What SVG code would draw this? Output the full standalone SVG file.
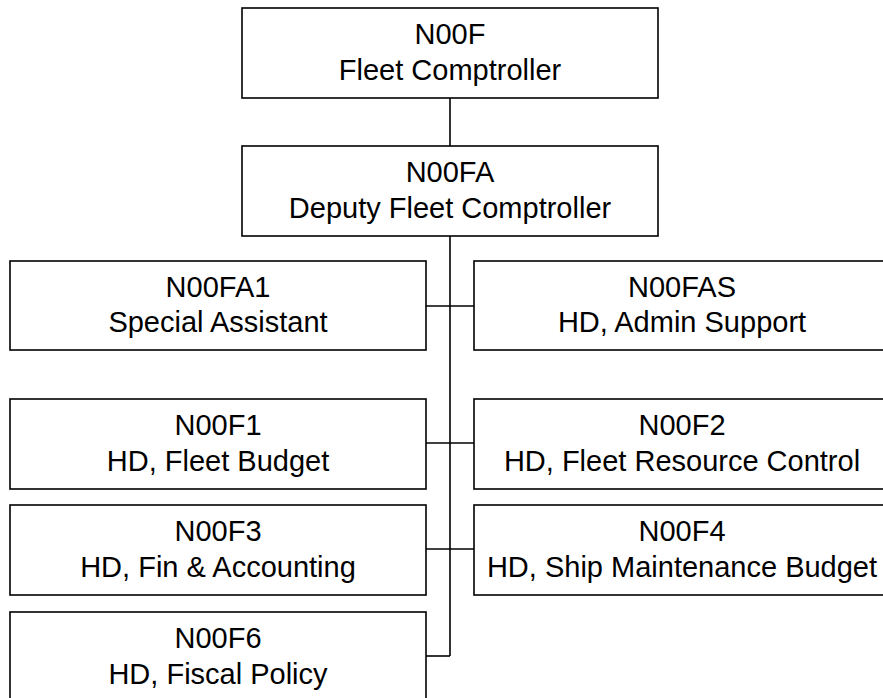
<svg xmlns="http://www.w3.org/2000/svg" width="883" height="698" viewBox="0 0 883 698">
<style>
rect.box{fill:#fff;stroke:#000;stroke-width:1.6}
text{font-family:"Liberation Sans",Arial,sans-serif;font-size:29px;fill:#000;text-anchor:middle}
.conn line{stroke:#000;stroke-width:1.6}
</style>
<rect width="883" height="698" fill="#fff"/>
<g class="conn" id="connectors">
<line x1="450" y1="98" x2="450" y2="146"/>
<line x1="450" y1="236" x2="450" y2="656"/>
<line x1="426" y1="306" x2="474" y2="306"/>
<line x1="426" y1="443" x2="474" y2="443"/>
<line x1="426" y1="549" x2="474" y2="549"/>
<line x1="426" y1="656" x2="450" y2="656"/>
</g>
<g id="N00F"><rect class="box" x="242" y="8" width="416" height="90"/><text x="450" y="44">N00F</text><text x="450" y="80">Fleet Comptroller</text></g>
<g id="N00FA"><rect class="box" x="242" y="146" width="416" height="90"/><text x="450" y="182">N00FA</text><text x="450" y="218">Deputy Fleet Comptroller</text></g>
<g id="N00FA1"><rect class="box" x="10" y="261" width="416" height="89"/><text x="218" y="297">N00FA1</text><text x="218" y="332">Special Assistant</text></g>
<g id="N00FAS"><rect class="box" x="474" y="261" width="416" height="89"/><text x="682" y="297">N00FAS</text><text x="682" y="332">HD, Admin Support</text></g>
<g id="N00F1"><rect class="box" x="10" y="399" width="416" height="90"/><text x="218" y="435">N00F1</text><text x="218" y="471">HD, Fleet Budget</text></g>
<g id="N00F2"><rect class="box" x="474" y="399" width="416" height="90"/><text x="682" y="435">N00F2</text><text x="682" y="471">HD, Fleet Resource Control</text></g>
<g id="N00F3"><rect class="box" x="10" y="505" width="416" height="90"/><text x="218" y="541">N00F3</text><text x="218" y="577">HD, Fin &amp; Accounting</text></g>
<g id="N00F4"><rect class="box" x="474" y="505" width="416" height="90"/><text x="682" y="541">N00F4</text><text x="682" y="577">HD, Ship Maintenance Budget</text></g>
<g id="N00F6"><rect class="box" x="10" y="612" width="416" height="90"/><text x="218" y="648">N00F6</text><text x="218" y="684">HD, Fiscal Policy</text></g>
</svg>
